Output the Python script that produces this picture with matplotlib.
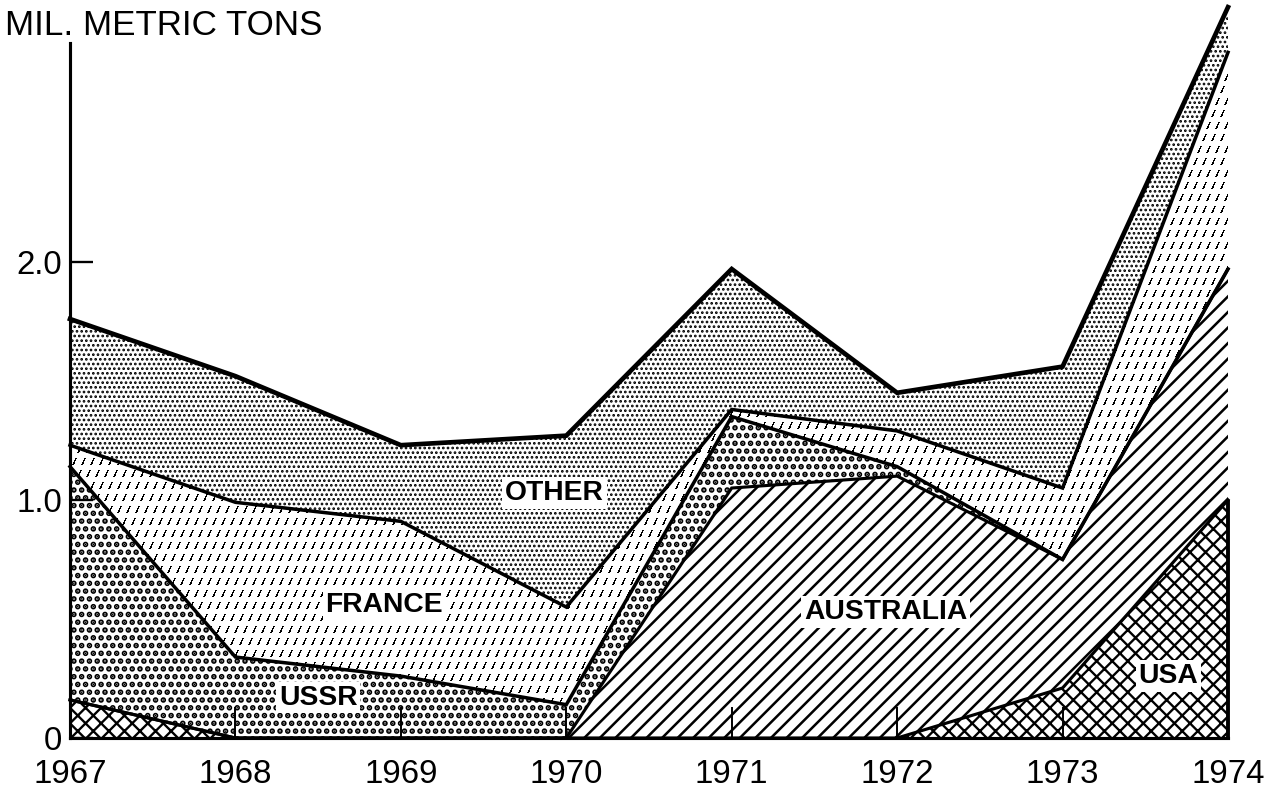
import matplotlib
matplotlib.use("Agg")
import matplotlib.pyplot as plt
import numpy as np

# values (mil. metric tons), stacked bottom -> top
years = [1967, 1968, 1969, 1970, 1971, 1972, 1973, 1974]
usa = [0.16, 0.0, 0.0, 0.0, 0.0, 0.0, 0.21, 1.00]
australia = [0.0, 0.0, 0.0, 0.0, 1.05, 1.10, 0.54, 0.97]
ussr = [0.98, 0.34, 0.26, 0.14, 0.30, 0.04, 0.0, 0.0]
france = [0.09, 0.65, 0.65, 0.41, 0.03, 0.15, 0.30, 0.91]
other = [0.53, 0.53, 0.32, 0.72, 0.59, 0.16, 0.51, 0.19]

y_ticks = [0, 1, 2]
y_ticklabels = ["0", "1.0", "2.0"]
title = "MIL. METRIC TONS"

DPI = 140
plt.rcParams['hatch.color'] = 'black'
plt.rcParams['font.family'] = ['Liberation Sans', 'DejaVu Sans']

fig = plt.figure(figsize=(1271 / DPI, 791 / DPI), dpi=DPI)
ax = fig.add_axes([70 / 1271, 53 / 791, 1158 / 1271, 738 / 791])

x = np.array(years, dtype=float)
b0 = np.zeros(len(years))
b1 = b0 + np.array(usa)
b2 = b1 + np.array(australia)
b3 = b2 + np.array(ussr)
b4 = b3 + np.array(france)
b5 = b4 + np.array(other)


def band(lo, hi, hatch, hlw):
    with plt.rc_context({'hatch.linewidth': hlw}):
        return ax.fill_between(x, lo, hi, facecolor='white', edgecolor='black',
                               hatch=hatch, lw=0, zorder=1)


band(b0, b1, 'xxx', 1.2)
band(b1, b2, '///', 1.3)
band(b2, b3, '...', 2.0)
fr = ax.fill_between(x, b3, b4, facecolor='white', lw=0, zorder=1)
band(b4, b5, '.....', 0.9)

# short slanted dash texture for France, clipped to its band
w_px, h_px = 1158, 738
rr, cc = np.mgrid[0:h_px, 0:w_px]
row = rr // 12
u = (cc + (row % 2) * 4) % 9
v = rr % 12
mask = (v >= 2) & (v <= 8) & (np.abs(u - (4 + (5 - v) * 0.45)) < 0.9)
tex = np.zeros((h_px, w_px, 4))
tex[..., 3] = mask.astype(float)
ytop = 3.1
im = ax.imshow(tex, extent=(years[0], years[-1], 0, ytop), aspect='auto',
               interpolation='nearest', origin='upper', zorder=1.5)
im.set_clip_path(fr.get_paths()[0], fr.get_transform())

for top, lw in [(b1, 1.6), (b2, 1.6), (b3, 1.8), (b4, 1.8), (b5, 2.4)]:
    ax.plot(x, top, color='black', lw=lw, solid_joinstyle='miter', zorder=3, clip_on=False)
ax.vlines(years[-1], 0, usa[-1], color='black', lw=2.0, zorder=3, clip_on=False)

label_kw = dict(fontsize=14.5, fontweight='bold', ha='center', va='center', zorder=4,
                bbox=dict(facecolor='white', edgecolor='none', pad=1.5))
ax.text(1969.93, 1.03, "OTHER", **label_kw)
ax.text(1968.90, 0.56, "FRANCE", **label_kw)
ax.text(1968.50, 0.17, "USSR", **label_kw)
ax.text(1971.93, 0.53, "AUSTRALIA", **label_kw)
ax.text(1973.64, 0.26, "USA", **label_kw)

ax.set_xlim(years[0], years[-1])
ax.set_ylim(0, ytop)
for s in ['top', 'right']:
    ax.spines[s].set_visible(False)
ax.spines['left'].set_linewidth(1.6)
ax.spines['bottom'].set_linewidth(1.6)
ax.spines['left'].set_bounds(0, 2.92)
ax.spines['left'].set_zorder(5)
ax.spines['bottom'].set_zorder(5)

ax.set_xticks(years)
ax.set_xticklabels([str(y) for y in years], fontsize=17)
ax.set_yticks(y_ticks)
ax.set_yticklabels(y_ticklabels, fontsize=17)
ax.tick_params(axis='x', direction='in', length=16, width=1.0, pad=11)
ax.tick_params(axis='y', direction='in', length=12, width=1.2, pad=4)

fig.text(5 / 1271, 1 - 35 / 791, title, fontsize=18, ha='left', va='baseline')

fig.savefig("out.png", dpi=DPI, facecolor='white')
